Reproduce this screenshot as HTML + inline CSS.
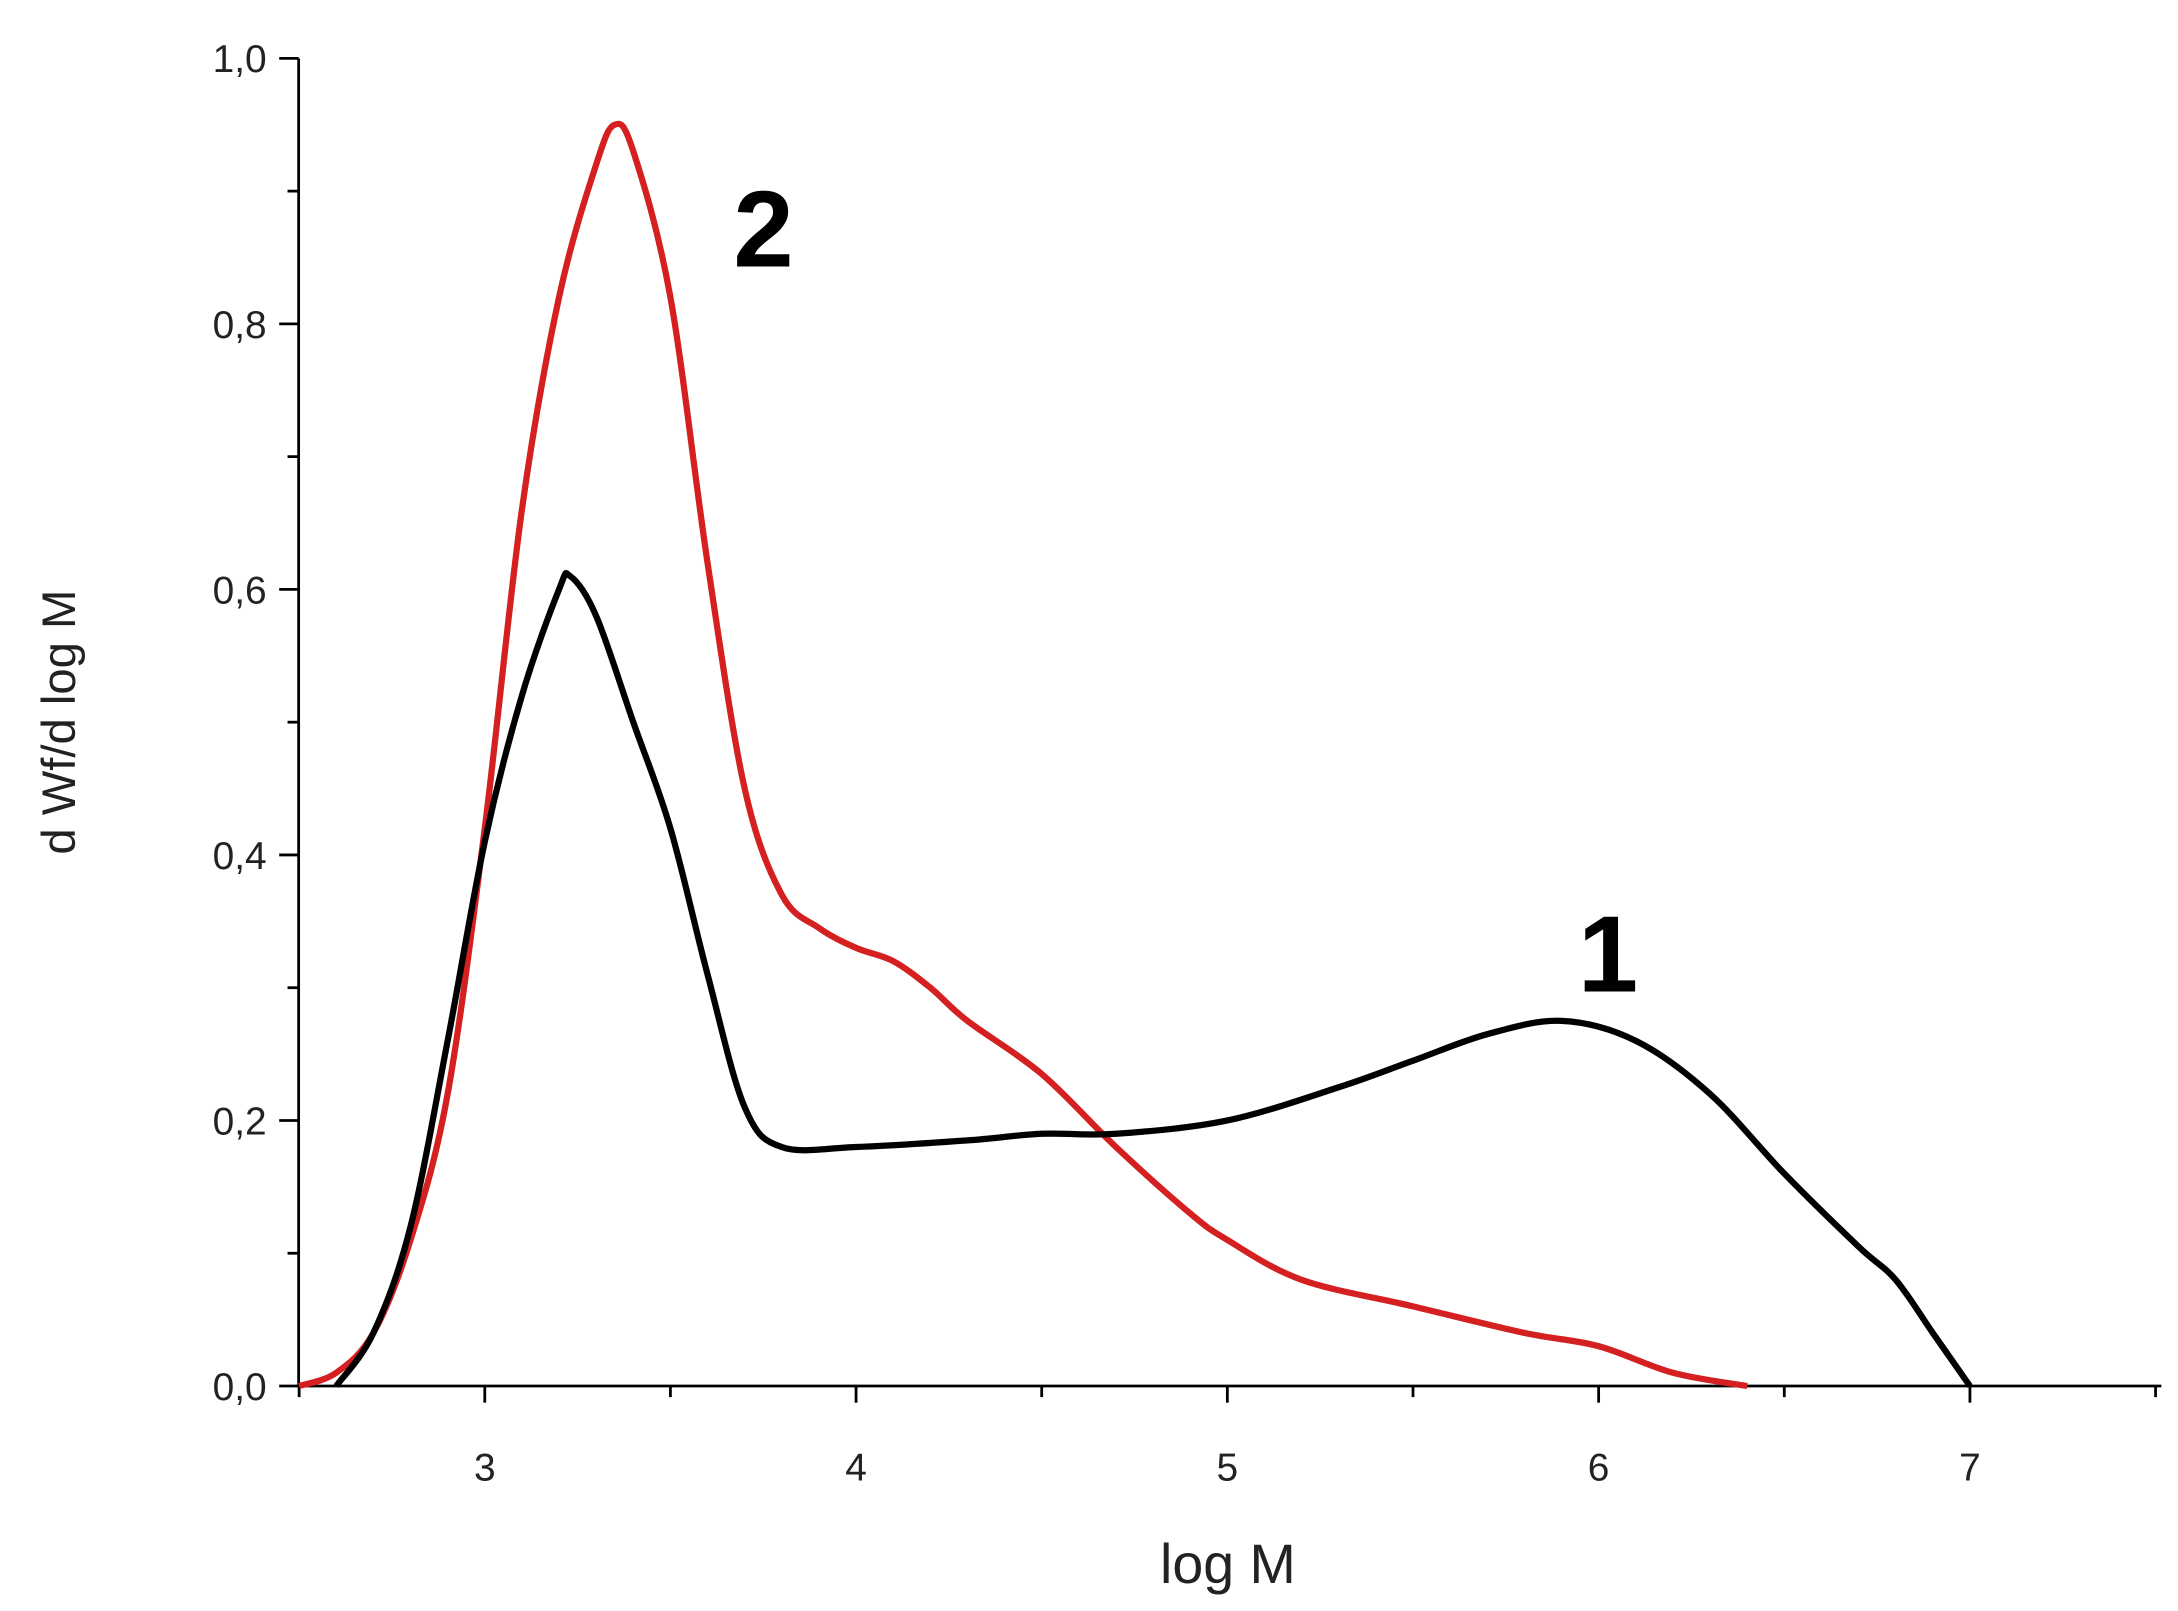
<!DOCTYPE html>
<html><head><meta charset="utf-8"><style>
html,body{margin:0;padding:0;background:#fff;}
svg{display:block;}
text{font-family:"Liberation Sans",sans-serif;}
</style></head><body>
<svg id="s" width="2178" height="1611" viewBox="0 0 1568 1160" preserveAspectRatio="none" xmlns="http://www.w3.org/2000/svg">
<g id="ax" stroke="#000" stroke-width="2" fill="none">
<line x1="215" y1="42" x2="215" y2="999"/>
<line x1="214" y1="998" x2="1556" y2="998"/>
</g>
<g id="lbl" font-size="28" fill="#222"></g>
<text x="528" y="192" font-size="78" font-weight="bold" fill="#000">2</text>
<text x="1136" y="714" font-size="78" font-weight="bold" fill="#000">1</text>
<text x="884" y="1140" font-size="40" text-anchor="middle" fill="#222">log M</text>
<text transform="translate(54,520) rotate(-90)" font-size="34" text-anchor="middle" fill="#222">d Wf/d log M</text>
<path id="red" fill="none" stroke="#d42020" stroke-width="4.5"/>
<path id="blk" fill="none" stroke="#000" stroke-width="4.5"/>
</svg>
<script>
var X=function(x){return 349+(x-3)*267.3},Y=function(y){return 998-y*956};
var ax=document.getElementById('ax'),lb=document.getElementById('lbl'),ns='http://www.w3.org/2000/svg';
function ln(a,b,c,d){var l=document.createElementNS(ns,'line');l.setAttribute('x1',a);l.setAttribute('y1',b);l.setAttribute('x2',c);l.setAttribute('y2',d);ax.appendChild(l);}
function tx(x,y,t,a){var e=document.createElementNS(ns,'text');e.setAttribute('x',x);e.setAttribute('y',y);e.setAttribute('text-anchor',a);e.textContent=t;lb.appendChild(e);}
for(var i=0;i<=10;i++){var y=Y(i/10);ln(i%2?207:201,y,215,y);if(i%2==0)tx(192,y+10,(i/10).toFixed(1).replace('.',','),'end');}
for(var k=0;k<=10;k++){var x=X(2.5+k/2);ln(x,998,x,k%2?1010:1006);if(k%2==1)tx(x,1066,String(2.5+k/2),'middle');}
function path(p){var pts=p.map(function(q){return [X(q[0]),Y(q[1])]});var d='M'+pts[0][0]+','+pts[0][1];
for(var i=0;i<pts.length-1;i++){var p0=pts[i-1]||pts[i],p1=pts[i],p2=pts[i+1],p3=pts[i+2]||p2;
d+=' C'+(p1[0]+(p2[0]-p0[0])/6)+','+(p1[1]+(p2[1]-p0[1])/6)+' '+(p2[0]-(p3[0]-p1[0])/6)+','+(p2[1]-(p3[1]-p1[1])/6)+' '+p2[0]+','+p2[1];}return d;}
var blk=[[2.6,0],[2.7,0.04],[2.8,0.12],[2.9,0.26],[3.0,0.41],[3.1,0.52],[3.2,0.6],[3.23,0.61],[3.3,0.58],[3.4,0.5],[3.5,0.42],[3.6,0.31],[3.7,0.21],[3.8,0.18],[4.0,0.18],[4.3,0.185],[4.5,0.19],[4.7,0.19],[5.0,0.2],[5.3,0.225],[5.5,0.245],[5.7,0.265],[5.9,0.275],[6.1,0.26],[6.3,0.22],[6.5,0.16],[6.7,0.105],[6.8,0.08],[6.9,0.04],[7.0,0]];
var red=[[2.5,0],[2.6,0.01],[2.7,0.04],[2.8,0.11],[2.9,0.22],[3.0,0.42],[3.1,0.66],[3.2,0.82],[3.3,0.92],[3.35,0.95],[3.4,0.93],[3.5,0.82],[3.6,0.62],[3.7,0.45],[3.8,0.37],[3.9,0.345],[4.0,0.33],[4.1,0.32],[4.2,0.3],[4.3,0.275],[4.5,0.235],[4.7,0.18],[4.9,0.13],[5.0,0.11],[5.2,0.08],[5.5,0.06],[5.8,0.04],[6.0,0.03],[6.2,0.01],[6.4,0]];
document.getElementById('blk').setAttribute('d',path(blk));
document.getElementById('red').setAttribute('d',path(red));
</script>
</body></html>
